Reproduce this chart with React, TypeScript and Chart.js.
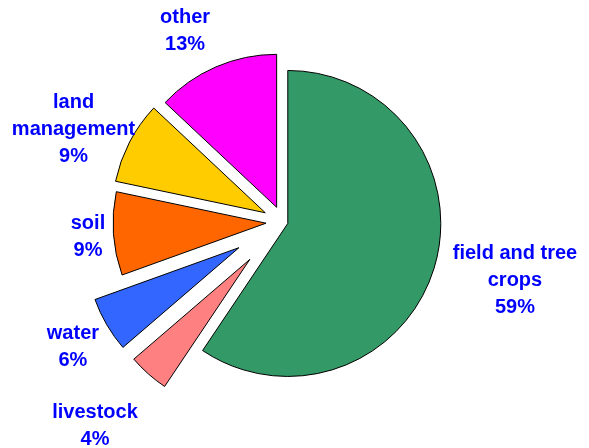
import React, { useEffect, useRef } from "react";
import { Chart, registerables } from "chart.js";

Chart.register(...registerables);

const categories = ["field and tree\ncrops", "livestock", "water", "soil", "land\nmanagement", "other"];
const values = [59.4, 4.3, 5.8, 8.8, 8.7, 13.0];
const colors = ["#339966", "#FF8080", "#3366FF", "#FF6600", "#FFCC00", "#FF00FF"];
const explode = [5, 50, 51, 17, 20, 16];
const labelDistance = [239, 276.3, 243.9, 195.5, 229.7, 215.6];
const labelAngleNudge = [-3.0, 1.3, -0.3, 0, -3.3, -3.6];

const explodePlugin = {
  id: "explodePie",
  beforeDatasetDraw(chart: any, args: any) {
    const ctx = chart.ctx;
    const meta = args.meta;
    meta.data.forEach((arc: any, i: number) => {
      const mid = (arc.startAngle + arc.endAngle) / 2;
      const e = explode[i] || 0;
      ctx.save();
      ctx.translate(Math.cos(mid) * e, Math.sin(mid) * e);
      arc.draw(ctx);
      ctx.restore();
    });
    return false;
  },
  afterDraw(chart: any) {
    const ctx = chart.ctx;
    const meta = chart.getDatasetMeta(0);
    ctx.save();
    ctx.fillStyle = "#0000FF";
    ctx.font = "bold 20px 'Liberation Sans', Arial, sans-serif";
    ctx.textAlign = "center";
    ctx.textBaseline = "alphabetic";
    const lineH = 27;
    meta.data.forEach((arc: any, i: number) => {
      const mid = (arc.startAngle + arc.endAngle) / 2 + (labelAngleNudge[i] * Math.PI) / 180;
      const d = labelDistance[i];
      const cx = arc.x + Math.cos(mid) * d;
      const cy = arc.y + Math.sin(mid) * d;
      const lines = categories[i].split("\n").concat([Math.round(values[i]) + "%"]);
      lines.forEach((ln, j) => {
        const y = cy + (j - (lines.length - 1) / 2) * lineH + 7;
        ctx.fillText(ln, cx, y);
      });
    });
    ctx.restore();
  },
};

export default function App() {
  const ref = useRef<HTMLCanvasElement | null>(null);
  useEffect(() => {
    document.body.style.margin = "0";
    const chart = new Chart(ref.current as HTMLCanvasElement, {
      type: "pie",
      data: {
        labels: categories.map((c) => c.replace("\n", " ")),
        datasets: [
          {
            data: values,
            backgroundColor: colors,
            borderColor: "#000000",
            borderWidth: 1,
            borderJoinStyle: "miter",
          } as any,
        ],
      },
      options: {
        responsive: false,
        animation: false,
        radius: 153,
        layout: { padding: { left: 0, right: 23, top: 0, bottom: 4 } },
        plugins: {
          legend: { display: false },
          tooltip: { enabled: false },
        },
        events: [],
      } as any,
      plugins: [explodePlugin],
    });
    return () => chart.destroy();
  }, []);
  return <canvas ref={ref} width={589} height={448} style={{ display: "block" }} />;
}
